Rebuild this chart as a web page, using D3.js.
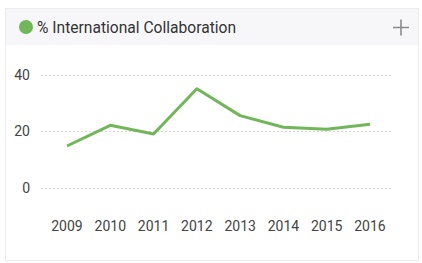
<!doctype html>
<html>
  <head>
    <style>
      body { margin: 0; background: #fff; font-family: Roboto, sans-serif; }
    </style>
  </head>
  <body>
    <div id="chart"></div>
    <script src="https://d3js.org/d3.v7.min.js"></script>
    <script>
      var years = ['2009', '2010', '2011', '2012', '2013', '2014', '2015', '2016'];
      var collab = [14.8, 22.1, 19, 35, 25.5, 21.4, 20.7, 22.5];
      var yTicks = [0, 20, 40];
      var title = '% International Collaboration';

      var width = 422, height = 263;
      var svg = d3.select('#chart').append('svg')
        .attr('width', width)
        .attr('height', height);

      // card
      svg.append('rect')
        .attr('x', 5.5).attr('y', 8.5)
        .attr('width', 413).attr('height', 252)
        .attr('fill', '#fff')
        .attr('stroke', '#ececf0');
      svg.append('rect')
        .attr('x', 6).attr('y', 9)
        .attr('width', 412).attr('height', 36)
        .attr('fill', '#f7f7fa');

      svg.append('circle')
        .attr('cx', 26).attr('cy', 27).attr('r', 7)
        .attr('fill', '#72b65a');
      svg.append('text')
        .attr('x', 37).attr('y', 33)
        .attr('font-size', 15.6)
        .attr('fill', '#333')
        .text(title);
      // plus
      svg.append('path')
        .attr('d', 'M393,27.5H409M401,19.5V35.5')
        .attr('stroke', '#8a8a8a')
        .attr('stroke-width', 1.6);

      var x = d3.scalePoint()
        .domain(years)
        .range([67, 370]);
      var y = d3.scaleLinear()
        .domain([0, 40])
        .range([188, 74.5]);

      var grid = svg.append('g');
      grid.selectAll('line')
        .data(yTicks)
        .enter()
        .append('line')
        .attr('x1', 41).attr('x2', 391)
        .attr('y1', function(d) { return Math.round(y(d)) + 0.5; })
        .attr('y2', function(d) { return Math.round(y(d)) + 0.5; })
        .attr('stroke', '#d6d6d6')
        .attr('stroke-dasharray', '2,2');

      svg.append('g').selectAll('text')
        .data(yTicks)
        .enter()
        .append('text')
        .attr('x', 30)
        .attr('y', function(d) { return y(d) + 5; })
        .attr('text-anchor', 'end')
        .attr('font-size', 14)
        .attr('fill', '#444')
        .text(function(d) { return d; });

      svg.append('g').selectAll('text')
        .data(years)
        .enter()
        .append('text')
        .attr('x', function(d) { return x(d); })
        .attr('y', 231)
        .attr('text-anchor', 'middle')
        .attr('font-size', 14)
        .attr('fill', '#444')
        .text(function(d) { return d; });

      var line = d3.line()
        .x(function(d, i) { return x(years[i]); })
        .y(function(d) { return y(d); });

      svg.append('path')
        .datum(collab)
        .attr('d', line)
        .attr('fill', 'none')
        .attr('stroke', '#72b65a')
        .attr('stroke-width', 3)
        .attr('stroke-linejoin', 'round');
    </script>
  </body>
</html>
